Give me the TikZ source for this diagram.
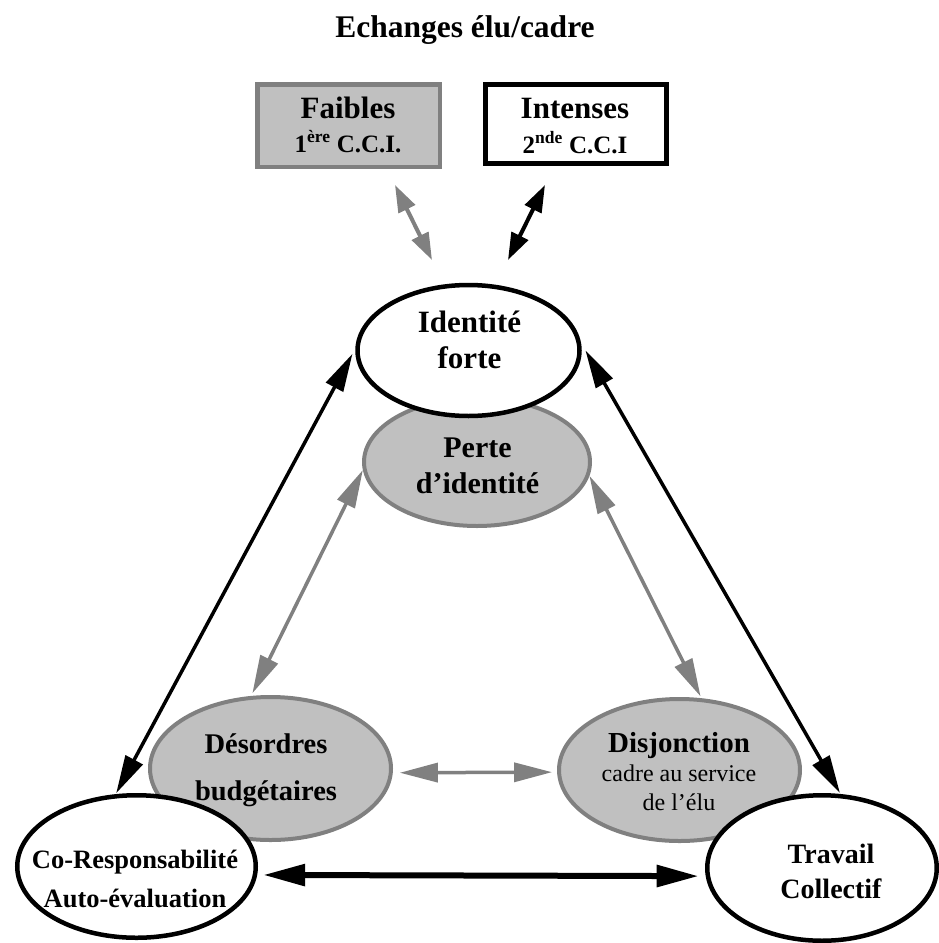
\documentclass[tikz,border=0pt]{standalone}
\usepackage{fontspec}
\setmainfont{Liberation Serif}
\usetikzlibrary{arrows.meta,shapes.geometric}
\definecolor{fillgray}{HTML}{C0C0C0}
\definecolor{edgegray}{HTML}{808080}
\tikzset{
  whiteell/.style={ellipse, draw=black, line width=4.5pt, fill=white, inner sep=0pt},
  grayell/.style={ellipse, draw=edgegray, line width=4pt, fill=fillgray, inner sep=0pt},
  lbl/.style={anchor=base, inner sep=0pt},
  tipbig/.style={Triangle[length=38pt,width=19pt]},
  tipsmall/.style={Triangle[length=27pt,width=18pt]},
  blackarr/.style={draw=black, line width=3.5pt, arrows={Triangle[length=38pt,width=19pt]-Triangle[length=38pt,width=19pt]}},
  blackthick/.style={draw=black, line width=6pt, arrows={Triangle[length=42pt,width=21pt]-Triangle[length=42pt,width=21pt]}},
  grayarr/.style={draw=edgegray, line width=3.5pt, arrows={Triangle[length=38pt,width=19pt]-Triangle[length=38pt,width=19pt]}},
  smallgray/.style={draw=edgegray, line width=4pt, arrows={Triangle[length=27pt,width=18pt]-Triangle[length=27pt,width=18pt]}},
  smallblack/.style={draw=black, line width=4pt, arrows={Triangle[length=27pt,width=18pt]-Triangle[length=27pt,width=18pt]}},
}
\newcommand{\twol}[1]{\begin{tabular}[t]{@{}c@{}}#1\end{tabular}}
\begin{document}
\begin{tikzpicture}[x=1pt,y=-1pt]
\useasboundingbox (0,0) rectangle (939,943);

% title
\node[lbl, font=\fontsize{31.5}{36}\selectfont\bfseries] (title) at (465,37) {Echanges élu/cadre};

% top boxes
\node[draw=edgegray, fill=fillgray, line width=4.5pt, minimum width=182.5pt, minimum height=82.5pt, inner sep=0pt] (fa) at (348.5,125.5) {};
\node[draw=black, fill=white, line width=5pt, minimum width=181pt, minimum height=79pt, inner sep=0pt] (in) at (576,124) {};
\node[lbl, font=\fontsize{31}{34}\selectfont\bfseries] (fa-t) at (348,118)
  {\twol{Faibles\\{\fontsize{25}{34}\selectfont 1\textsuperscript{ère} C.C.I.}}};
\node[lbl, font=\fontsize{31}{35}\selectfont\bfseries] (in-t) at (575,118)
  {\twol{Intenses\\{\fontsize{25}{35}\selectfont 2\textsuperscript{nde} C.C.I}}};

% ellipses
\node[grayell, minimum width=226pt, minimum height=128pt] (pi) at (477,462) {};
\node[whiteell, minimum width=222pt, minimum height=131pt] (idf) at (468.5,350.5) {};
\node[grayell, minimum width=241pt, minimum height=143pt] (des) at (270.5,768.5) {};
\node[grayell, minimum width=241pt, minimum height=142pt] (dis) at (679.5,770) {};
\node[whiteell, minimum width=238.5pt, minimum height=142.5pt] (cor) at (136.5,866.5) {};
\node[whiteell, minimum width=229.5pt, minimum height=145.5pt] (tc) at (822,868) {};

% texts
\node[lbl, font=\fontsize{31}{36}\selectfont\bfseries] (idf-t) at (469.5,332) {\twol{Identité\\forte}};
\node[lbl, font=\fontsize{30}{36}\selectfont\bfseries] (pi-t) at (477.5,457) {\twol{Perte\\d’identité}};
\node[lbl, font=\fontsize{28.5}{47}\selectfont\bfseries] (des-t) at (266,753) {\twol{Désordres\\budgétaires}};
\node[lbl, font=\fontsize{24}{29}\selectfont] (dis-t) at (679,752)
  {\twol{{\fontsize{29}{29}\selectfont\bfseries Disjonction}\\cadre au service\\de l’élu}};
\node[lbl, font=\fontsize{26.5}{39}\selectfont\bfseries] (cor-t) at (135,868) {\twol{Co-Responsabilité\\Auto-évaluation}};
\node[lbl, font=\fontsize{28}{35}\selectfont\bfseries] (tc-t) at (831,863) {\twol{Travail\\Collectif}};

% top arrows
\coordinate (ga1) at (395,185);
\coordinate (ga2) at (432,260);
\coordinate (ba1) at (545,185);
\coordinate (ba2) at (508,260);
\draw[smallgray] (ga1) -- (ga2);
\draw[smallblack] (ba1) -- (ba2);

% connectors
\draw[blackarr, shorten <=1pt, shorten >=6pt] (cor.106.6) -- (idf.179);
\draw[blackarr, shorten <=9pt, shorten >=1pt] (idf.4.6) -- (tc.76.5);
\draw[grayarr, shorten <=0pt, shorten >=3pt] (pi.184) -- (des.105.6);
\draw[grayarr, shorten <=0pt, shorten >=2pt] (pi.-7.9) -- (dis.73.2);
\draw[grayarr, shorten <=7pt, shorten >=5pt] (des.-2.2) -- (dis.181.4);
\draw[blackthick, shorten <=6pt, shorten >=7pt] (cor.-4.8) -- (tc.184.6);
\end{tikzpicture}
\end{document}
